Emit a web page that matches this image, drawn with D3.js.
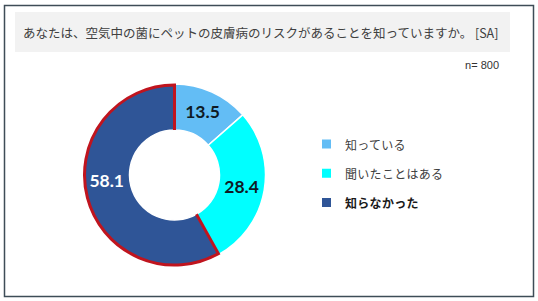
<!DOCTYPE html>
<html><head><meta charset="utf-8">
<script src="https://cdn.jsdelivr.net/npm/d3@7"></script>
<style>body{margin:0;background:#fff;}svg{display:block;}</style>
</head><body>
<script>
const title = "あなたは、空気中の菌にペットの皮膚病のリスクがあることを知っていますか。 [SA]";
const sampleLabel = "n= 800";
const categories = ["知っている", "聞いたことはある", "知らなかった"];
const values = [13.5, 28.4, 58.1];
const colors = ["#63bdf5", "#00ffff", "#2f5597"];

const W = 538, H = 301;
const svg = d3.select("body").append("svg").attr("width", W).attr("height", H);

svg.append("rect").attr("x", 4.5).attr("y", 5.5).attr("width", 529).attr("height", 291)
  .attr("fill", "#fff").attr("stroke", "#3e4d57").attr("stroke-width", 1.5);

svg.append("rect").attr("x", 15).attr("y", 12).attr("width", 495).attr("height", 40).attr("fill", "#f2f2f2");
svg.append("text").attr("x", 23).attr("y", 38).text(title)
  .attr("font-family", "'Noto Sans CJK JP'").attr("font-size", 12.5).attr("fill", "#404040");
svg.append("text").attr("x", 499).attr("y", 69).attr("text-anchor", "end").text(sampleLabel)
  .attr("font-family", "'Liberation Sans', Arial").attr("font-size", 11).attr("fill", "#333");

const cx = 174.5, cy = 175, rOuter = 91, rInner = 45;
const g = svg.append("g").attr("transform", `translate(${cx},${cy})`);
const pie = d3.pie().sort(null).value(d => d)(values);
const arc = d3.arc().innerRadius(rInner).outerRadius(rOuter);
const labelArc = d3.arc().innerRadius(68).outerRadius(68);

g.selectAll("path.slice").data(pie).enter().append("path")
  .attr("d", arc).attr("fill", (d, i) => colors[i])
  .attr("stroke", "#fff").attr("stroke-width", 1.5);

// highlighted slice outline: radial edges + outer arc (no inner arc)
const hi = pie[pie.length - 1];
const ro = rOuter - 1;
const p = d3.path();
const a0 = hi.startAngle - Math.PI / 2, a1 = hi.endAngle - Math.PI / 2;
p.moveTo(rInner * Math.cos(a0), rInner * Math.sin(a0));
p.lineTo(ro * Math.cos(a0), ro * Math.sin(a0));
p.arc(0, 0, ro, a0, a1, false);
p.lineTo(rInner * Math.cos(a1), rInner * Math.sin(a1));
g.append("path").attr("d", p.toString())
  .attr("fill", "none").attr("stroke", "#c0141e").attr("stroke-width", 3).attr("stroke-linejoin", "miter");

g.selectAll("text.lbl").data(pie).enter().append("text")
  .attr("transform", (d, i) => {
    const c = labelArc.centroid(d);
    const dy = i === 2 ? -12 : (i === 0 ? -2 : 0);
    const dx = i === 2 ? -2 : 0;
    return `translate(${c[0] + dx},${c[1] + dy})`;
  })
  .attr("text-anchor", "middle").attr("dominant-baseline", "central")
  .attr("font-family", "Lato, 'Open Sans', sans-serif").attr("font-weight", "bold").attr("font-size", 17.5)
  .attr("fill", (d, i) => i === 2 ? "#fff" : "#0f1a24")
  .text(d => d.data.toFixed(1));

const legendY = d3.scalePoint().domain(categories).range([144, 202.5]);
const lg = svg.append("g");
categories.forEach((c, i) => {
  lg.append("rect").attr("x", 322).attr("y", legendY(c) - 4.5).attr("width", 9).attr("height", 9).attr("fill", colors[i]);
  lg.append("text").attr("x", 345).attr("y", legendY(c)).attr("dominant-baseline", "central")
    .attr("font-family", "'Noto Sans CJK JP'").attr("font-size", 12)
    .attr("font-weight", i === 2 ? "bold" : "normal")
    .attr("fill", i === 2 ? "#1a1a1a" : "#404040").attr("letter-spacing", 0.3).text(c);
});
</script>
</body></html>
